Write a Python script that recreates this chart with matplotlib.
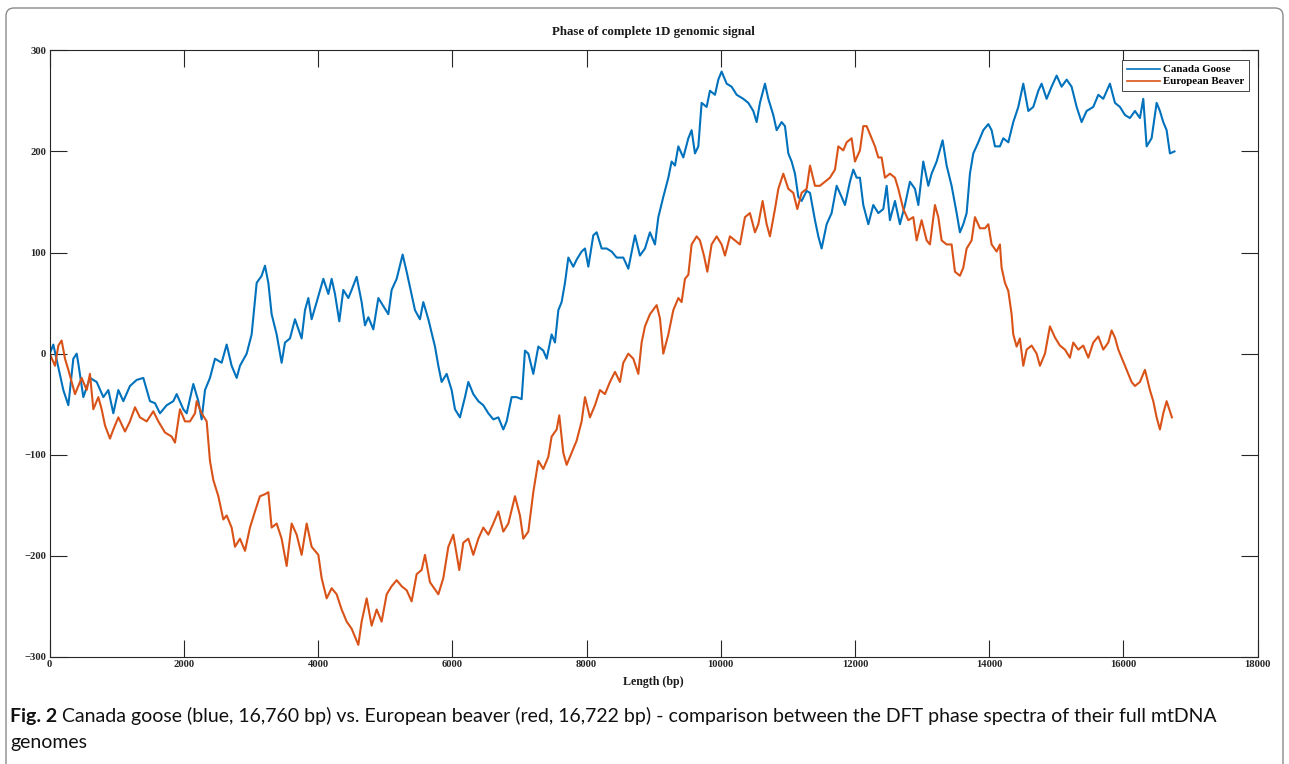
import matplotlib
matplotlib.use('Agg')
import matplotlib.pyplot as plt
from matplotlib.patches import FancyBboxPatch
from matplotlib.transforms import IdentityTransform

# ---- data ----
goose_bp = [0, 54, 203, 278, 352, 402, 427, 501, 600, 700, 799, 874, 948, 1023, 1097, 1196, 1296, 1395,
            1494, 1569, 1643, 1743, 1842, 1892, 1991, 2041, 2140, 2215, 2264, 2314, 2388, 2463, 2562,
            2637, 2711, 2786, 2835,
            2935, 3009, 3084, 3158, 3208, 3258, 3307, 3382, 3456, 3506, 3580, 3655, 3754, 3804, 3854,
            3903, 3978, 4077, 4152, 4201, 4251, 4315, 4375, 4450, 4499, 4574, 4648, 4698, 4748, 4822,
            4897, 4971, 5046, 5095, 5170, 5259, 5319, 5368, 5443, 5517, 5567, 5642,
            5741, 5791, 5840, 5915, 5989, 6039, 6113, 6188, 6238, 6312, 6387, 6461, 6536, 6610, 6685,
            6759, 6809, 6883, 6958, 7032, 7082, 7132, 7206, 7281, 7355, 7405, 7479, 7529, 7579, 7628,
            7678, 7728, 7802, 7852, 7926, 7976, 8026, 8100, 8150, 8224, 8299, 8373, 8448,
            8547, 8622, 8721, 8795, 8870, 8944, 9019, 9069, 9143, 9218, 9267, 9317, 9367, 9441, 9516,
            9565, 9615, 9665, 9714, 9789, 9838, 9913, 9963, 10012, 10087, 10161, 10236, 10335, 10410,
            10484, 10534, 10583, 10658, 10708, 10782, 10832, 10906, 10956, 11006, 11055, 11105, 11155,
            11204, 11279, 11329,
            11403, 11453, 11502, 11577, 11651, 11726, 11800, 11850, 11924, 11974, 12024, 12073, 12123,
            12198, 12272, 12347, 12421, 12471, 12520, 12595, 12669, 12744, 12818, 12893, 12943, 13017,
            13092, 13141, 13216, 13305, 13365, 13439, 13514, 13563, 13613, 13663, 13712, 13762, 13837,
            13911, 13986, 14035, 14085, 14159,
            14209, 14284, 14358, 14433, 14507, 14582, 14656, 14731, 14780, 14855, 14929, 15004, 15078,
            15153, 15227, 15302, 15376, 15451, 15550, 15625, 15699, 15798, 15873, 15947, 16022, 16096,
            16171, 16245, 16295, 16345, 16419, 16494, 16543, 16593, 16643, 16692, 16760]
goose_phase = [0, 9, -36, -51, -5, 0, -10, -43, -24, -28, -43, -36, -59, -36, -47, -32, -26, -24,
               -47, -49, -59, -51, -47, -40, -55, -59, -30, -47, -65, -36, -24, -5, -9,
               9, -12, -24, -12,
               0, 19, 70, 77, 87, 70, 39, 19, -9, 11, 15, 34, 15, 43, 55,
               34, 51, 74, 59, 74, 59, 32, 63, 55, 63, 76, 51, 28, 36, 24,
               55, 47, 39, 63, 74, 98, 81, 66, 43, 34, 51, 34,
               7, -12, -28, -20, -36, -55, -63, -43, -28, -40, -47, -51, -59, -65, -63,
               -75, -67, -43, -43, -45, 3, 0, -20, 7, 3, -5, 19, 11, 43, 51,
               70, 95, 86, 93, 101, 104, 86, 117, 120, 104, 104, 101, 95,
               95, 84, 117, 97, 104, 120, 108, 135, 155, 174, 190, 186, 205, 194, 213,
               221, 198, 205, 248, 244, 260, 256, 271, 279, 267, 264, 256, 252, 248,
               240, 229, 248, 267, 252, 236, 221, 229, 225, 198, 190, 178, 155,
               151, 161, 159,
               132, 116, 104, 128, 139, 166, 155, 147, 170, 182, 174, 174, 147,
               128, 147, 139, 143, 166, 132, 151, 128, 147, 170, 163, 147, 190,
               166, 178, 190, 211, 186, 166, 139, 120, 128, 139, 178, 198, 209,
               221, 227, 221, 205, 205,
               213, 209, 229, 244, 267, 240, 244, 260, 267, 252, 264, 275, 264,
               271, 264, 244, 229, 240, 244, 256, 252, 267, 248, 244, 236, 233,
               240, 233, 252, 205, 213, 248, 240, 229, 221, 198, 200]

beaver_bp = [0, 79, 129, 178, 228, 278, 327, 377, 427, 476, 551, 600, 650, 725, 774, 824, 898, 948,
             1023, 1122, 1196, 1271, 1345, 1445, 1544, 1619, 1718, 1817, 1867, 1941, 2016, 2090, 2165,
             2190, 2264, 2339, 2388, 2438, 2513, 2587, 2637, 2711, 2761, 2835,
             2910, 2984, 3059, 3133, 3208, 3258, 3307, 3382, 3456, 3531, 3605, 3680, 3754, 3829, 3903,
             4003, 4052, 4127, 4201, 4276, 4350, 4425, 4499, 4599, 4648, 4723, 4797, 4872, 4946, 5021,
             5095, 5170, 5244, 5319, 5393, 5468, 5542, 5592, 5666,
             5791, 5865, 5940, 6014, 6103, 6163, 6238, 6312, 6387, 6461, 6536, 6610, 6685, 6759, 6834,
             6933, 7007, 7057, 7132, 7206, 7281, 7355, 7430, 7479, 7554, 7593, 7653, 7703, 7777, 7852,
             7926, 7976, 8050, 8125, 8199, 8274, 8348, 8423, 8497,
             8547, 8622, 8696, 8771, 8820, 8870, 8944, 9044, 9093, 9143, 9218, 9292, 9367, 9416, 9466,
             9516, 9565, 9640, 9689, 9749, 9799, 9863, 9938, 10012, 10062, 10136, 10211, 10285, 10360,
             10434, 10509, 10559, 10623, 10683, 10732, 10807, 10857, 10931, 11006, 11080, 11140, 11204,
             11279, 11329,
             11403, 11477, 11552, 11626, 11701, 11751, 11825, 11875, 11949, 11999, 12073, 12123, 12173,
             12247, 12297, 12347, 12396, 12446, 12520, 12595, 12645, 12719, 12794, 12868, 12918, 12992,
             13067, 13116, 13191, 13241, 13290, 13365, 13439, 13489, 13563, 13613, 13663, 13737, 13787,
             13861, 13936, 13986, 14035, 14110, 14159,
             14184, 14234, 14284, 14333, 14358, 14408, 14457, 14507, 14557, 14631, 14706, 14755, 14830,
             14904, 14979, 15053, 15128, 15202, 15252, 15327, 15401, 15476, 15550, 15625, 15699, 15774,
             15823, 15873, 15923, 15972, 16047, 16121, 16171, 16245, 16320, 16394, 16444, 16494, 16543,
             16593, 16643, 16722]
beaver_phase = [0, -12, 8, 13, -5, -16, -28, -40, -32, -24, -36, -20, -55, -43, -55, -71, -84, -75,
                -63, -77, -67, -53, -63, -67, -57, -67, -78, -82, -88, -55, -67, -67, -59,
                -47, -59, -67, -106, -125, -141, -164, -160, -172, -191, -183,
                -195, -172, -156, -141, -139, -137, -172, -168, -183, -210, -168, -179, -199, -168, -191,
                -199, -222, -242, -232, -238, -253, -265, -272, -288, -265, -242, -269, -253, -265, -238,
                -230, -224, -230, -234, -245, -218, -214, -199, -226,
                -238, -222, -191, -179, -214, -187, -183, -199, -183, -172, -179, -168, -156, -176, -168,
                -141, -160, -183, -176, -137, -106, -114, -102, -82, -75, -61, -98, -110, -98, -86,
                -67, -43, -63, -51, -36, -40, -28, -18, -28,
                -9, 0, -5, -20, 11, 27, 39, 48, 35, 0, 19, 43, 55, 51, 74,
                78, 108, 116, 112, 97, 81, 108, 116, 108, 97, 116, 112, 108, 135,
                139, 120, 128, 151, 128, 116, 143, 163, 178, 163, 159, 143, 159,
                163, 186,
                166, 166, 170, 174, 182, 205, 201, 209, 213, 190, 201, 225, 225,
                213, 205, 194, 194, 174, 178, 174, 163, 143, 132, 135, 112, 132,
                112, 108, 147, 135, 112, 108, 108, 81, 77, 85, 104, 112, 135,
                124, 124, 128, 108, 101, 108,
                85, 70, 62, 39, 19, 7, 15, -12, 4, 8, 0, -12, 0,
                27, 16, 8, 4, -4, 11, 4, 8, -4, 11, 17, 4, 11,
                23, 16, 4, -4, -16, -28, -32, -28, -16, -36, -47, -63, -75,
                -59, -47, -63]

x_ticks = [0, 2000, 4000, 6000, 8000, 10000, 12000, 14000, 16000, 18000]
y_ticks = [-300, -200, -100, 0, 100, 200, 300]
series_labels = ['Canada Goose', 'European Beaver']
title_text = 'Phase of complete 1D genomic signal'
xlabel_text = 'Length (bp)'
caption_bold = 'Fig. 2'
caption_line1 = (' Canada goose (blue, 16,760 bp) vs. European beaver (red, 16,722 bp) - '
                 'comparison between the DFT phase spectra of their full mtDNA')
caption_line2 = 'genomes'

# ---- figure ----
W, H = 1289, 764
plt.rcParams['font.family'] = ['Liberation Serif', 'DejaVu Serif']
fig = plt.figure(figsize=(W / 100, H / 100), dpi=100)

# outer rounded frame
frame = FancyBboxPatch((6, -20), 1277, 764 - 8 + 20,
                       boxstyle='round,pad=0,rounding_size=8',
                       transform=IdentityTransform(), facecolor='none',
                       edgecolor='#8a8a8a', linewidth=1.0)
fig.patches.append(frame)

L, R, T, B = 49.7, 1257.7, 50.3, 657.0
ax = fig.add_axes([L / W, 1 - B / H, (R - L) / W, (B - T) / H])
ax.plot(goose_bp, goose_phase, color='#0072BD', lw=1.5, label=series_labels[0])
ax.plot(beaver_bp, beaver_phase, color='#D95319', lw=1.5, label=series_labels[1])
ax.set_xlim(0, 18000)
ax.set_ylim(-300, 300)
ax.set_xticks(x_ticks)
ax.set_yticks(y_ticks)
ax.tick_params(direction='in', length=12, width=0.8, top=True, right=True,
               labelsize=7.7, colors='#262626', pad=2.5)
for lbl in ax.get_xticklabels() + ax.get_yticklabels():
    lbl.set_fontweight('bold')
for sp in ax.spines.values():
    sp.set_color('#262626')
    sp.set_linewidth(0.8)

fig.text((L + R) / 2 / W, 1 - 32 / H, title_text, ha='center', va='center',
         fontsize=9.3, fontweight='bold', color='#1a1a1a')
fig.text((L + R) / 2 / W, 1 - 682 / H, xlabel_text, ha='center', va='center',
         fontsize=8.6, fontweight='bold', color='#1a1a1a')

leg = ax.legend(loc='upper right', bbox_to_anchor=((1249 - L) / (R - L), (B - 60) / (B - T)),
                borderaxespad=0, fancybox=False, frameon=True, framealpha=1,
                prop={'family': 'Liberation Serif', 'weight': 'bold', 'size': 7.8},
                handlelength=3.0, handletextpad=0.3, borderpad=0.45, labelspacing=0.22)
leg.get_frame().set_edgecolor('#262626')
leg.get_frame().set_linewidth(0.6)
for line in leg.get_lines():
    line.set_linewidth(1.2)

# caption
cap_font = ['Lato', 'DejaVu Sans']
cap_size = 14
t1 = fig.text(10 / W, 1 - 722 / H, caption_bold, ha='left', va='baseline',
              fontsize=cap_size, fontweight='bold', family=cap_font, color='#111111')
fig.canvas.draw()
bb = t1.get_window_extent()
fig.text(bb.x1 / W, 1 - 722 / H, caption_line1, ha='left', va='baseline',
         fontsize=cap_size, family=cap_font, color='#111111')
fig.text(10 / W, 1 - 748 / H, caption_line2, ha='left', va='baseline',
         fontsize=cap_size, family=cap_font, color='#111111')

fig.savefig('out.png', dpi=100)
